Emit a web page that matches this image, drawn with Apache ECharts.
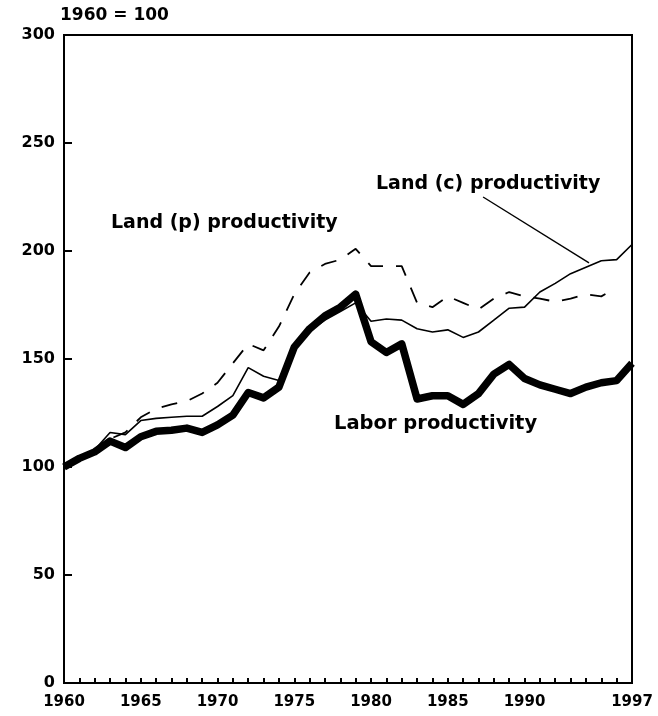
<!DOCTYPE html>
<html>
<head>
<meta charset="utf-8">
<script src="https://cdn.jsdelivr.net/npm/echarts@6/dist/echarts.min.js"></script>
<style>
  html, body { margin: 0; padding: 0; background: #fff; }
  #chart { width: 658px; height: 716px; }
</style>
</head>
<body>
<div id="chart"></div>
<script>
// years 1960 .. 1997
const years = [];
for (let y = 1960; y <= 1997; y++) years.push(y);

// 1960 = 100
const labor = [100, 104, 107, 112, 109, 114, 116.5, 117, 118, 116, 119.5, 124, 134.5, 132, 137,
  155.5, 164, 170, 174, 180, 158, 153, 157, 131.5, 133, 133, 129, 134, 143, 147.5,
  141, 138, 136, 134, 137, 139, 140, 148];
const landC = [100, 104, 108, 116, 115, 121.5, 122.5, 123, 123.5, 123.5, 128, 133, 146, 142, 140,
  157, 163, 168, 172, 176, 167.5, 168.5, 168, 164, 162.5, 163.5, 160, 162.5, 168, 173.5,
  174, 181, 185, 189.5, 192.5, 195.5, 196, 203];
const landP = [100, 104, 107, 113, 116, 123, 127, 129, 130.5, 134, 139, 148, 157, 154, 165,
  180, 190, 194, 196, 201, 193, 193, 193, 176, 174, 179, 176, 173, 178, 181,
  179, 178, 176.5, 178, 180, 179, 183];

const xLabels = [1960, 1965, 1970, 1975, 1980, 1985, 1990, 1997];
const yTicks = [0, 50, 100, 150, 200, 250, 300];

const font = 'DejaVu Sans';
const pair = (arr) => arr.map((v, i) => [years[i], v]);

const chart = echarts.init(document.getElementById('chart'));

const option = {
  animation: false,
  backgroundColor: '#fff',
  grid: {
    left: 64, right: 26, top: 35, bottom: 33,
    show: true, borderColor: '#000', borderWidth: 2
  },
  xAxis: {
    type: 'value',
    min: 1960, max: 1997, interval: 1,
    axisLine: { lineStyle: { color: '#000', width: 2 } },
    axisTick: { inside: true, length: 5, lineStyle: { color: '#000', width: 2 } },
    splitLine: { show: false },
    axisLabel: {
      showMaxLabel: true,
      margin: 12,
      color: '#000', fontFamily: font, fontWeight: 'bold', fontSize: 15,
      formatter: (v) => xLabels.indexOf(v) >= 0 ? String(v) : ''
    }
  },
  yAxis: {
    type: 'value',
    min: yTicks[0], max: yTicks[yTicks.length - 1], interval: 50,
    axisLine: { show: true, lineStyle: { color: '#000', width: 2 } },
    axisTick: { inside: true, length: 8, lineStyle: { color: '#000', width: 2 } },
    splitLine: { show: false },
    axisLabel: {
      margin: 9,
      color: '#000', fontFamily: font, fontWeight: 'bold', fontSize: 16
    }
  },
  series: [
    {
      name: 'Labor productivity', type: 'line', data: pair(labor),
      symbol: 'none', z: 2,
      lineStyle: { color: '#000', width: 7.5, join: 'round' }
    },
    {
      name: 'Land (p) productivity', type: 'line', data: pair(landP),
      symbol: 'none', z: 3,
      lineStyle: { color: '#000', width: 1.8, type: [16, 13] }
    },
    {
      name: 'Land (c) productivity', type: 'line', data: pair(landC),
      symbol: 'none', z: 4,
      lineStyle: { color: '#000', width: 1.6 },
      markLine: {
        silent: true, symbol: 'none',
        label: { show: false },
        lineStyle: { color: '#000', width: 1.4, type: 'solid' },
        data: [[{ coord: [1987.3, 225] }, { coord: [1994.2, 194.5] }]]
      }
    }
  ],
  graphic: [
    { type: 'text', left: 60, top: 7,
      style: { text: '1960 = 100', font: 'bold 17px "DejaVu Sans"', fill: '#000' } },
    { type: 'text', left: 111, top: 214,
      style: { text: 'Land (p) productivity', font: 'bold 19px "DejaVu Sans"', fill: '#000' } },
    { type: 'text', left: 376, top: 175,
      style: { text: 'Land (c) productivity', font: 'bold 19px "DejaVu Sans"', fill: '#000' } },
    { type: 'text', left: 334, top: 414,
      style: { text: 'Labor productivity', font: 'bold 19.5px "DejaVu Sans"', fill: '#000' } }
  ]
};

chart.setOption(option);
</script>
</body>
</html>
